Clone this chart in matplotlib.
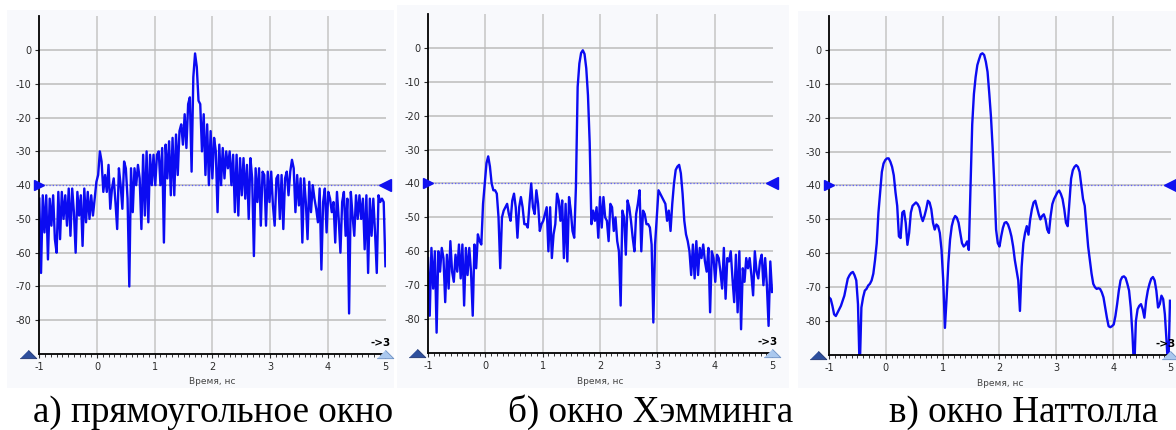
import numpy as np
import matplotlib
matplotlib.use('Agg')
import matplotlib.pyplot as plt
from matplotlib.patches import Rectangle

W, H = 1176, 430

# уровень, дБ; отсчёты равномерно от -1 до 5 нс
rect_db = [
    -44, -66, -43, -54, -43, -62, -44, -52, -43, -56,
    -60, -42, -56, -42, -50, -43, -52, -41, -55, -41,
    -48, -60, -42, -49, -43, -58, -41, -51, -42, -50,
    -43, -49, -44, -39, -37, -30, -33, -42, -37, -42,
    -34, -47, -41, -38, -45, -53, -35, -40, -47, -33,
    -35, -44, -70, -35, -48, -35, -40, -34, -38, -53,
    -31, -49, -30, -51, -31, -40, -31, -40, -31, -30,
    -40, -29, -57, -28, -38, -27, -43, -26, -43, -25,
    -37, -24, -22, -28, -19, -29, -16, -14, -36, -8,
    -1, -5, -15, -16, -30, -19, -37, -22, -40, -24,
    -38, -26, -30, -48, -28, -40, -29, -38, -30, -35,
    -30, -40, -31, -48, -31, -49, -32, -43, -32, -44,
    -34, -50, -32, -38, -61, -35, -45, -35, -52, -36,
    -37, -52, -36, -45, -36, -46, -52, -38, -37, -50,
    -37, -53, -38, -36, -43, -36, -32.5, -35, -48, -37,
    -46, -38, -57, -38, -45, -56, -39, -48, -40, -44,
    -47, -51, -41, -65, -45, -41, -54, -42, -44, -48,
    -45, -57, -42, -50, -60, -45, -42, -55, -44, -78,
    -42, -49, -55, -43, -50, -43, -50, -44, -59, -43,
    -66, -44, -55, -44, -54, -66, -43, -45, -44, -45,
    -64,
]

hamming_db = [
    -62, -79, -59, -71, -60, -84, -60, -66, -59, -62,
    -75, -61, -71, -57, -66, -69, -61, -66, -58, -68,
    -58, -76, -59, -67, -59, -66, -79, -58, -65, -55,
    -57, -58, -46, -40, -34, -32, -35, -40, -42, -42,
    -43, -50, -65, -50, -48, -47, -46, -49, -51, -45,
    -43, -47, -56, -47, -44, -47, -52, -52, -53, -46,
    -40, -47, -49, -42, -46, -54, -52, -51, -49, -47,
    -60, -47, -62, -55, -52, -43, -45, -51, -45, -62,
    -46, -63, -44, -48, -54, -56, -41, -11.5, -4.6, -1.5,
    -0.7, -1.8, -6, -14, -28, -52, -48, -51, -47, -56,
    -44, -53, -44, -50, -51, -57, -46, -47, -54, -50,
    -57, -60, -76, -48, -50, -61, -45, -47, -51, -56,
    -60, -49, -46, -42, -60, -48, -49, -52, -52, -53,
    -58, -81, -58, -50, -42, -43, -44, -45, -46, -51,
    -48, -54, -46, -40, -36, -35, -34.5, -37, -43, -51,
    -55, -57, -60, -67, -58, -68, -57, -67, -59, -62,
    -58, -63, -66, -59, -78, -60, -62, -69, -61, -62,
    -66, -71, -59, -74, -62, -63, -60, -68, -75, -61,
    -78, -60, -83, -65, -69, -62, -65, -62, -67, -73,
    -60, -66, -68, -63, -61, -70, -62, -70, -82, -63,
    -72,
]

nuttall_db = [
    -73, -73.5, -75.5, -78, -78.5, -77.5, -76.5, -75.5, -74, -72.5,
    -70, -67.5, -66.5, -65.8, -65.5, -66.5, -68, -75, -95, -76,
    -73, -71, -70.5, -69.5, -69, -68, -66, -62, -57, -48,
    -42, -36, -33.5, -32.5, -32, -32, -33, -34.5, -37, -42,
    -46, -55, -55.5, -48, -47.5, -51, -57.5, -54, -48, -46,
    -45.5, -45, -45.5, -46.5, -49, -50.5, -49, -47, -44.5, -45,
    -47, -51, -53, -51.5, -52, -54, -59, -68, -82, -73,
    -63, -56, -52, -50, -49, -49.5, -51, -54, -57, -58,
    -57.5, -56.5, -59, -40, -22, -13, -8, -4.5, -2.8, -1.3,
    -1, -1.5, -3.5, -6.5, -12.8, -19.7, -29, -40, -53, -57,
    -58, -55, -52.5, -51, -50.8, -51.5, -53, -55, -58, -62,
    -65, -68, -77, -64, -57, -54, -52, -54.5, -50, -47,
    -45, -44.5, -46.5, -48.5, -50, -49, -48.5, -50, -53, -54,
    -49, -45.5, -44, -43, -42, -41.5, -42.5, -44, -47, -51,
    -52, -45, -38, -35.5, -34.5, -34, -34.5, -36, -40, -44,
    -46, -52, -58, -62, -66, -69, -70, -70.5, -70.3, -70.5,
    -71.5, -73, -76, -79, -81.5, -81.8, -81.5, -81, -78.5, -75,
    -71, -68, -67, -66.8, -67.3, -69, -71, -76, -84, -95,
    -80, -76.5, -75.5, -75, -76.5, -79, -74, -71, -69, -67.5,
    -67, -68, -71, -76, -75, -72.5, -73.5, -78, -86, -95,
    -74,
]

y_ticks = [0, -10, -20, -30, -40, -50, -60, -70, -80]
y_labels = ['0', '-10', '-20', '-30', '-40', '-50', '-60', '-70', '-80']
x_ticks = [-1, 0, 1, 2, 3, 4, 5]
x_labels = ['-1', '0', '1', '2', '3', '4', '5']
marker_level = -40
titles = ['а) прямоугольное окно', 'б) окно Хэмминга', 'в) окно Наттолла']

# геометрия в пикселях: (лево, верх, право, низ)
panels = [
    dict(db=rect_db, box=(39.3, 16.3, 386, 354), xmax=5.01, bg=(7, 10, 394, 388), tx=213),
    dict(db=hamming_db, box=(428, 14, 773, 353), xmax=5.017, bg=(397, 5, 789, 388), tx=651),
    dict(db=nuttall_db, box=(829, 16, 1171, 355), xmax=5.018, bg=(798, 11, 1176, 388), tx=1024),
]

LINE = '#0b0bf2'
FLAT_TRI = [(-1, -0.5), (1, -0.5), (0, 0.5)]


def draw_panel(fig, p, title):
    l, t, r, b = p['bg']
    fig.patches.append(Rectangle((l / W, 1 - b / H), (r - l) / W, (b - t) / H,
                                 transform=fig.transFigure, facecolor='#f8f9fc',
                                 edgecolor='none', zorder=-1))
    l, t, r, b = p['box']
    ax = fig.add_axes([l / W, 1 - b / H, (r - l) / W, (b - t) / H])
    ax.set_facecolor('none')
    ax.set_xlim(-1, p['xmax'])
    ax.set_ylim(-90, 10)

    # сетка
    for x in x_ticks[1:-1]:
        ax.axvline(x, color='#d0d0d0', lw=1.4, zorder=1)
    for y in y_ticks:
        ax.axhline(y, color='#bcbcbc', lw=1.1, zorder=1)

    ax.axhline(marker_level, color='#6060ff', ls=':', lw=0.9, zorder=2)
    ax.plot([x_ticks[0]], [marker_level], marker='>', ms=7, color='#1010f0', clip_on=False, zorder=5)
    ax.plot([x_ticks[-1]], [marker_level], marker='<', ms=8, color='#1010f0', clip_on=False, zorder=5)

    tt = np.linspace(x_ticks[0], x_ticks[-1], len(p['db']))
    ax.plot(tt, p['db'], color=LINE, lw=1.7, solid_joinstyle='round', zorder=3)

    for s in ['top', 'right']:
        ax.spines[s].set_visible(False)
    for s in ['left', 'bottom']:
        ax.spines[s].set_color('black')
        ax.spines[s].set_linewidth(1.3)
        ax.spines[s].set_zorder(4)

    ax.set_yticks(y_ticks)
    ax.set_yticklabels(y_labels)
    ax.set_xticks(x_ticks)
    ax.set_xticklabels(x_labels)
    ax.set_xticks(np.arange(-1, 5.01, 0.1), minor=True)
    ax.tick_params(axis='both', labelsize=7, colors='#2b2b2b', length=3, width=0.8, pad=2.5)
    ax.tick_params(axis='x', which='minor', length=2.5, width=0.7, color='#333333')

    ax.text(0.5, -28 / (b - t), 'Время, нс', transform=ax.transAxes, ha='center', va='center',
            fontsize=6.5, color='#444444')

    # ползунки по краям оси времени
    axw = r - l
    ax.plot([-11 / axw], [0], marker=FLAT_TRI, ms=12, color='#2e4f9c', mec='#1f3470', mew=0.6,
            transform=ax.transAxes, clip_on=False, zorder=6)
    ax.plot([(x_ticks[-1] + 1) / (p['xmax'] + 1)], [0], marker=FLAT_TRI, ms=12, color='#aac8ee',
            mec='#6c90c4', mew=0.6, transform=ax.transAxes, clip_on=False, zorder=6)
    ax.text(0.985, 0.018, '->3', transform=ax.transAxes, ha='center', va='bottom',
            fontsize=7.5, fontweight='bold', color='black', clip_on=False, zorder=7)

    fig.text(p['tx'] / W, 1 - 422 / H, title, ha='center', va='baseline',
             fontsize=26.7, family='Liberation Serif', color='black')
    return ax


fig = plt.figure(figsize=(W / 100, H / 100), dpi=100)
fig.patch.set_facecolor('white')
for p, title in zip(panels, titles):
    draw_panel(fig, p, title)

fig.savefig('out.png', dpi=100)
